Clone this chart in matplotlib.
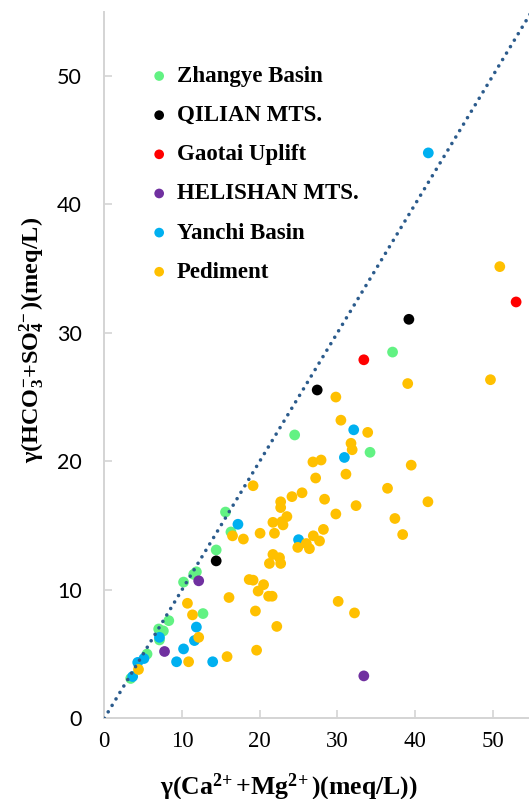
import matplotlib
matplotlib.use('Agg')
import matplotlib.pyplot as plt

# ---------------- data (meq/L) ----------------
zhangye_x = [3.4, 5.5, 7.0, 7.6, 7.1, 8.3, 10.2, 11.5, 11.85, 12.7, 14.4, 15.6, 16.3, 24.5, 34.2, 37.1]
zhangye_y = [3.1, 5.0, 6.95, 6.8, 6.1, 7.6, 10.6, 11.2, 11.4, 8.15, 13.1, 16.05, 14.5, 22.05, 20.7, 28.5]

qilian_x = [14.4, 27.4, 39.2]
qilian_y = [12.25, 25.55, 31.05]

gaotai_x = [33.4, 53.0]
gaotai_y = [27.9, 32.4]

helishan_x = [12.15, 7.75, 33.4]
helishan_y = [10.7, 5.2, 3.3]

yanchi_x = [3.65, 4.3, 5.1, 7.1, 11.6, 11.85, 10.2, 9.3, 13.95, 17.2, 25.0, 30.9, 32.1, 41.7]
yanchi_y = [3.25, 4.35, 4.65, 6.3, 6.05, 7.1, 5.4, 4.4, 4.4, 15.1, 13.9, 20.3, 22.45, 44.0]

pediment_x = [4.4, 10.7, 11.35, 12.15, 10.85, 15.8, 16.05, 18.65,
              19.6, 22.2, 19.45, 30.1, 32.2,
              19.15, 20.5, 19.8, 21.15, 21.6,
              21.7, 22.55, 21.25, 22.7,
              17.9, 16.5, 20.05, 21.9,
              24.9, 26.0, 26.4, 27.7, 26.9, 28.2,
              21.7, 22.85, 23.0, 23.5, 22.7, 22.7,
              24.15, 25.45, 28.35, 29.8, 32.4,
              19.15, 27.2, 31.1, 26.85, 27.9,
              31.75, 31.9, 33.9, 30.45, 29.8,
              36.45, 37.4, 38.4, 41.65, 39.5,
              39.05, 49.7, 50.9]
pediment_y = [3.8, 8.95, 8.05, 6.3, 4.4, 4.8, 9.4, 10.8,
              5.3, 7.15, 8.35, 9.1, 8.2,
              10.75, 10.4, 9.9, 9.5, 9.5,
              12.75, 12.5, 12.05, 12.05,
              13.95, 14.2, 14.4, 14.4,
              13.3, 13.6, 13.2, 13.8, 14.2, 14.7,
              15.25, 15.3, 15.05, 15.7, 16.85, 16.4,
              17.25, 17.55, 17.05, 15.9, 16.55,
              18.1, 18.7, 19.0, 19.95, 20.1,
              21.4, 20.9, 22.25, 23.2, 25.0,
              17.9, 15.55, 14.3, 16.85, 19.7,
              26.05, 26.35, 35.15]

series_names = ["Zhangye Basin", "QILIAN MTS.", "Gaotai Uplift",
                "HELISHAN MTS.", "Yanchi Basin", "Pediment"]
series_colors = ["#62F283", "#000000", "#FF0000", "#7030A0", "#00B0F0", "#FFC000"]

ticks = [0, 10, 20, 30, 40, 50]
tick_labels = ["0", "10", "20", "30", "40", "50"]
line_xy = [0, 55]

xlabel = r"γ(Ca$^{2\!+}$+Mg$^{2\!+}$)(meq/L))"
ylabel = r"γ(HCO$_3^{-}$+SO$_4^{2\!-}$)(meq/L)"

# ---------------- style ----------------
plt.rcParams['mathtext.fontset'] = 'custom'
plt.rcParams['mathtext.rm'] = 'Liberation Serif:bold'
plt.rcParams['mathtext.it'] = 'Liberation Serif:bold'
plt.rcParams['mathtext.bf'] = 'Liberation Serif:bold'

W, H = 529, 799
fig = plt.figure(figsize=(W / 100, H / 100), dpi=100)
x0, y0 = 104.3, 718.3
xs, ys = 7.77, 12.85
ax = fig.add_axes([x0 / W, (H - y0) / H, 55 * xs / W, 55 * ys / H])

data = [(zhangye_x, zhangye_y), (qilian_x, qilian_y), (gaotai_x, gaotai_y),
        (helishan_x, helishan_y), (yanchi_x, yanchi_y), (pediment_x, pediment_y)]
handles = []
for i, ((xv, yv), name, col) in enumerate(zip(data, series_names, series_colors)):
    h = ax.scatter(xv, yv, s=60, color=col, edgecolors='none', label=name, zorder=2 + i * 0.1)
    handles.append(h)

ax.plot(line_xy, line_xy, color='#2B5B8C', lw=2.6, linestyle=(0, (0.01, 2.08)),
        dash_capstyle='round', zorder=5, clip_on=True)

ax.set_xlim(0, 55)
ax.set_ylim(0, 55)
for s in ['top', 'right']:
    ax.spines[s].set_visible(False)
for s in ['left', 'bottom']:
    ax.spines[s].set_color('#D4D4D4')
    ax.spines[s].set_linewidth(1.4)

ax.set_xticks(ticks)
ax.set_yticks(ticks)
ax.set_xticklabels(tick_labels, fontfamily='Liberation Serif', fontsize=16.5)
ax.set_yticklabels(tick_labels, fontfamily='Lato', fontsize=15.5)
ax.tick_params(axis='both', direction='in', length=5.5, width=1.2, color='#D4D4D4')
ax.tick_params(axis='x', pad=9)
ax.tick_params(axis='y', pad=16)

ax.set_xlabel(xlabel, fontfamily='Liberation Serif', fontweight='bold', fontsize=18.5,
              va='baseline')
ax.xaxis.set_label_coords((289 - x0) / (55 * xs), -(794 - y0) / (55 * ys))
ax.set_ylabel(ylabel, fontfamily='Liberation Serif', fontweight='bold', fontsize=17.5,
              va='center')
ax.yaxis.set_label_coords((32 - x0) / (55 * xs), (y0 - 340) / (55 * ys))

fs = 16.5
leg = ax.legend(handles=handles, loc='upper left',
                bbox_to_anchor=(150.0 / W, 1 - 66.0 / H), bbox_transform=fig.transFigure,
                frameon=False, borderaxespad=0, borderpad=0,
                handlelength=0.8, handletextpad=0.37, labelspacing=0.79,
                markerscale=0.9, scatterpoints=1,
                prop={'family': 'Liberation Serif', 'weight': 'bold', 'size': fs})

fig.savefig('out.png', dpi=100)
